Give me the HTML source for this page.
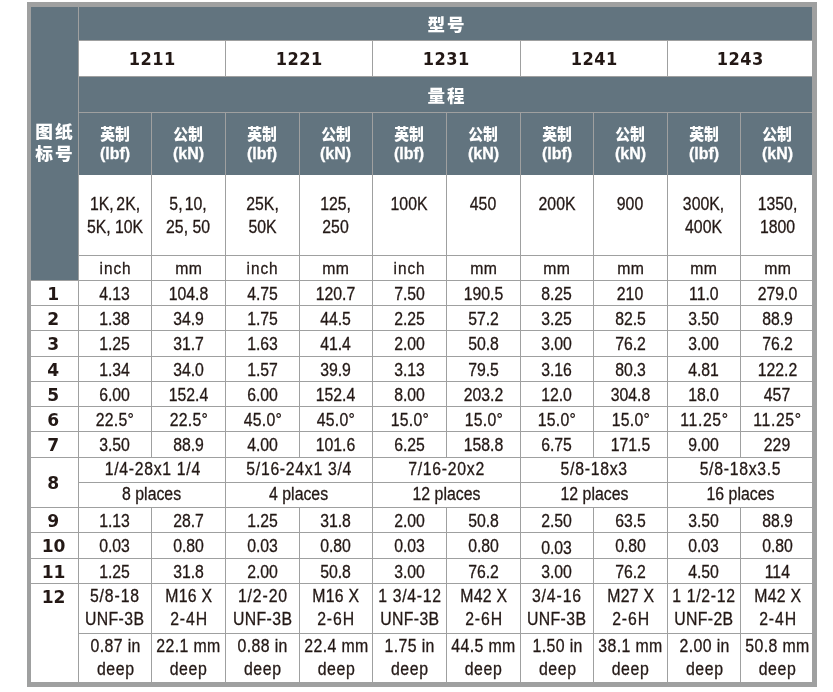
<!DOCTYPE html>
<html lang="zh-CN"><head><meta charset="utf-8"><title>table</title>
<style>
html,body{margin:0;padding:0;background:#fff;}
body{width:833px;height:692px;position:relative;overflow:hidden;font-family:"Liberation Sans","Noto Sans CJK SC",sans-serif;color:#231815;}
#f{position:absolute;left:27px;top:2px;width:790px;height:685px;background:#9fa0a0;}
.c{position:absolute;box-sizing:border-box;display:flex;align-items:center;justify-content:center;text-align:center;font-size:17px;line-height:23px;white-space:nowrap;overflow:visible;}
.w{background:#fff;}
.d{background:#62747f;color:#fff;}
.t{display:inline-block;font-size:18px;transform:scaleX(.878);-webkit-text-stroke:0.3px #231815;}
.b{display:inline-block;font-family:"DejaVu Sans","Liberation Sans",sans-serif;font-weight:bold;transform:scaleX(.9);}
.z{display:inline-block;font-weight:900;}
.zs{display:inline-block;font-weight:900;transform:scaleX(.925);position:relative;top:1px;}
.la{display:inline-block;font-weight:bold;font-size:17px;transform:scaleX(.94);-webkit-text-stroke:0.3px #fff;}
.mod{font-size:18px;letter-spacing:.6px;}
.n,.n12{font-size:18px;padding-right:2px;}
.n .b,.n12 .b{transform:scaleX(.95);}
.n12{align-items:flex-start;padding-top:0;}
.n12 .b{transform:translateY(1.3px) scaleX(.95);}
.h1{font-size:17px;letter-spacing:2px;padding-left:2px;}
.h1 .z{transform:translateY(1.5px) scaleX(1.03);}
.lab{font-size:17px;letter-spacing:2px;line-height:22px;}
.lab .z{transform:scaleX(1.04);}
.sub{font-size:16px;line-height:20px;}
.r .t{transform:translateY(.75px) scaleX(.878);}
.r8 .t{transform:translateY(-1px) scaleX(.878);}
.lc .t{font-size:17.5px;transform:translateY(0px) scaleX(.905);}
.r8.lc .t{transform:translateY(-1px) scaleX(.905);}
.u .t{transform:translateY(-.3px) scaleX(.905);}
.val{align-items:flex-start;padding-top:17px;}
.val .t{transform:translateY(.6px) scaleX(.878);}
.r2{align-items:flex-start;}
.r2 .t{transform:translateY(1px) scaleX(.878);}
.r2.lc .t{transform:translateY(1px) scaleX(.905);}
</style></head>
<body>
<div id="f"></div>
<div class="c d lab" style="left:31px;top:7px;width:47px;height:273px;"><span class="z">图纸<br>标号</span></div>
<div class="c d h1" style="left:79px;top:7px;width:733px;height:33px;"><span class="z">型号</span></div>
<div class="c w mod" style="left:79px;top:41px;width:146px;height:35px;"><span class="b">1211</span></div>
<div class="c w mod" style="left:226px;top:41px;width:146px;height:35px;"><span class="b">1221</span></div>
<div class="c w mod" style="left:373px;top:41px;width:147px;height:35px;"><span class="b">1231</span></div>
<div class="c w mod" style="left:521px;top:41px;width:146px;height:35px;"><span class="b">1241</span></div>
<div class="c w mod" style="left:668px;top:41px;width:144px;height:35px;"><span class="b">1243</span></div>
<div class="c d h1" style="left:79px;top:77px;width:733px;height:35px;"><span class="z">量程</span></div>
<div class="c d sub" style="left:79px;top:113px;width:72px;height:62px;"><div><span class="zs">英制</span><br><span class="la">(lbf)</span></div></div>
<div class="c d sub" style="left:152px;top:113px;width:73px;height:62px;"><div><span class="zs">公制</span><br><span class="la">(kN)</span></div></div>
<div class="c d sub" style="left:226px;top:113px;width:73px;height:62px;"><div><span class="zs">英制</span><br><span class="la">(lbf)</span></div></div>
<div class="c d sub" style="left:300px;top:113px;width:72px;height:62px;"><div><span class="zs">公制</span><br><span class="la">(kN)</span></div></div>
<div class="c d sub" style="left:373px;top:113px;width:73px;height:62px;"><div><span class="zs">英制</span><br><span class="la">(lbf)</span></div></div>
<div class="c d sub" style="left:447px;top:113px;width:73px;height:62px;"><div><span class="zs">公制</span><br><span class="la">(kN)</span></div></div>
<div class="c d sub" style="left:521px;top:113px;width:72px;height:62px;"><div><span class="zs">英制</span><br><span class="la">(lbf)</span></div></div>
<div class="c d sub" style="left:594px;top:113px;width:73px;height:62px;"><div><span class="zs">公制</span><br><span class="la">(kN)</span></div></div>
<div class="c d sub" style="left:668px;top:113px;width:72px;height:62px;"><div><span class="zs">英制</span><br><span class="la">(lbf)</span></div></div>
<div class="c d sub" style="left:741px;top:113px;width:71px;height:62px;padding-left:2px;"><div><span class="zs">公制</span><br><span class="la">(kN)</span></div></div>
<div class="c w val" style="left:79px;top:175px;width:72px;height:80px;"><span class="t"><span style="word-spacing:-2px;">1K, 2K,</span><br>5K, 10K</span></div>
<div class="c w val" style="left:152px;top:175px;width:73px;height:80px;"><span class="t"><span style="word-spacing:-2.5px;">5, 10,</span><br>25, 50</span></div>
<div class="c w val" style="left:226px;top:175px;width:73px;height:80px;"><span class="t">25K,<br>50K</span></div>
<div class="c w val" style="left:300px;top:175px;width:72px;height:80px;"><span class="t">125,<br>250</span></div>
<div class="c w val" style="left:373px;top:175px;width:73px;height:80px;"><span class="t">100K</span></div>
<div class="c w val" style="left:447px;top:175px;width:73px;height:80px;"><span class="t">450</span></div>
<div class="c w val" style="left:521px;top:175px;width:72px;height:80px;"><span class="t">200K</span></div>
<div class="c w val" style="left:594px;top:175px;width:73px;height:80px;"><span class="t">900</span></div>
<div class="c w val" style="left:668px;top:175px;width:72px;height:80px;"><span class="t">300K,<br>400K</span></div>
<div class="c w val" style="left:741px;top:175px;width:71px;height:80px;padding-left:2px;"><span class="t">1350,<br>1800</span></div>
<div class="c w r lc u" style="left:79px;top:256px;width:72px;height:24px;"><span class="t"><span style="font-size:17px;letter-spacing:1px;margin-right:-1px">inch</span></span></div>
<div class="c w r lc u" style="left:152px;top:256px;width:73px;height:24px;"><span class="t"><span style="display:inline-block;font-size:16px;transform:scaleX(1.09);letter-spacing:.5px;margin-right:-.5px">mm</span></span></div>
<div class="c w r lc u" style="left:226px;top:256px;width:73px;height:24px;"><span class="t"><span style="font-size:17px;letter-spacing:1px;margin-right:-1px">inch</span></span></div>
<div class="c w r lc u" style="left:300px;top:256px;width:72px;height:24px;"><span class="t"><span style="display:inline-block;font-size:16px;transform:scaleX(1.09);letter-spacing:.5px;margin-right:-.5px">mm</span></span></div>
<div class="c w r lc u" style="left:373px;top:256px;width:73px;height:24px;"><span class="t"><span style="font-size:17px;letter-spacing:1px;margin-right:-1px">inch</span></span></div>
<div class="c w r lc u" style="left:447px;top:256px;width:73px;height:24px;"><span class="t"><span style="display:inline-block;font-size:16px;transform:scaleX(1.09);letter-spacing:.5px;margin-right:-.5px">mm</span></span></div>
<div class="c w r lc u" style="left:521px;top:256px;width:72px;height:24px;"><span class="t"><span style="display:inline-block;font-size:16px;transform:scaleX(1.09);letter-spacing:.5px;margin-right:-.5px">mm</span></span></div>
<div class="c w r lc u" style="left:594px;top:256px;width:73px;height:24px;"><span class="t"><span style="display:inline-block;font-size:16px;transform:scaleX(1.09);letter-spacing:.5px;margin-right:-.5px">mm</span></span></div>
<div class="c w r lc u" style="left:668px;top:256px;width:72px;height:24px;"><span class="t"><span style="display:inline-block;font-size:16px;transform:scaleX(1.09);letter-spacing:.5px;margin-right:-.5px">mm</span></span></div>
<div class="c w r lc u" style="left:741px;top:256px;width:71px;height:24px;padding-left:2px;"><span class="t"><span style="display:inline-block;font-size:16px;transform:scaleX(1.09);letter-spacing:.5px;margin-right:-.5px">mm</span></span></div>
<div class="c w n" style="left:31px;top:281px;width:47px;height:24px;"><span class="b">1</span></div>
<div class="c w r" style="left:79px;top:281px;width:72px;height:24px;"><span class="t">4.13</span></div>
<div class="c w r" style="left:152px;top:281px;width:73px;height:24px;"><span class="t">104.8</span></div>
<div class="c w r" style="left:226px;top:281px;width:73px;height:24px;"><span class="t">4.75</span></div>
<div class="c w r" style="left:300px;top:281px;width:72px;height:24px;"><span class="t">120.7</span></div>
<div class="c w r" style="left:373px;top:281px;width:73px;height:24px;"><span class="t">7.50</span></div>
<div class="c w r" style="left:447px;top:281px;width:73px;height:24px;"><span class="t">190.5</span></div>
<div class="c w r" style="left:521px;top:281px;width:72px;height:24px;"><span class="t">8.25</span></div>
<div class="c w r" style="left:594px;top:281px;width:73px;height:24px;"><span class="t">210</span></div>
<div class="c w r" style="left:668px;top:281px;width:72px;height:24px;"><span class="t">11.0</span></div>
<div class="c w r" style="left:741px;top:281px;width:71px;height:24px;padding-left:2px;"><span class="t">279.0</span></div>
<div class="c w n" style="left:31px;top:306px;width:47px;height:24px;"><span class="b">2</span></div>
<div class="c w r" style="left:79px;top:306px;width:72px;height:24px;"><span class="t">1.38</span></div>
<div class="c w r" style="left:152px;top:306px;width:73px;height:24px;"><span class="t">34.9</span></div>
<div class="c w r" style="left:226px;top:306px;width:73px;height:24px;"><span class="t">1.75</span></div>
<div class="c w r" style="left:300px;top:306px;width:72px;height:24px;"><span class="t">44.5</span></div>
<div class="c w r" style="left:373px;top:306px;width:73px;height:24px;"><span class="t">2.25</span></div>
<div class="c w r" style="left:447px;top:306px;width:73px;height:24px;"><span class="t">57.2</span></div>
<div class="c w r" style="left:521px;top:306px;width:72px;height:24px;"><span class="t">3.25</span></div>
<div class="c w r" style="left:594px;top:306px;width:73px;height:24px;"><span class="t">82.5</span></div>
<div class="c w r" style="left:668px;top:306px;width:72px;height:24px;"><span class="t">3.50</span></div>
<div class="c w r" style="left:741px;top:306px;width:71px;height:24px;padding-left:2px;"><span class="t">88.9</span></div>
<div class="c w n" style="left:31px;top:331px;width:47px;height:25px;"><span class="b">3</span></div>
<div class="c w r" style="left:79px;top:331px;width:72px;height:25px;"><span class="t">1.25</span></div>
<div class="c w r" style="left:152px;top:331px;width:73px;height:25px;"><span class="t">31.7</span></div>
<div class="c w r" style="left:226px;top:331px;width:73px;height:25px;"><span class="t">1.63</span></div>
<div class="c w r" style="left:300px;top:331px;width:72px;height:25px;"><span class="t">41.4</span></div>
<div class="c w r" style="left:373px;top:331px;width:73px;height:25px;"><span class="t">2.00</span></div>
<div class="c w r" style="left:447px;top:331px;width:73px;height:25px;"><span class="t">50.8</span></div>
<div class="c w r" style="left:521px;top:331px;width:72px;height:25px;"><span class="t">3.00</span></div>
<div class="c w r" style="left:594px;top:331px;width:73px;height:25px;"><span class="t">76.2</span></div>
<div class="c w r" style="left:668px;top:331px;width:72px;height:25px;"><span class="t">3.00</span></div>
<div class="c w r" style="left:741px;top:331px;width:71px;height:25px;padding-left:2px;"><span class="t">76.2</span></div>
<div class="c w n" style="left:31px;top:357px;width:47px;height:24px;"><span class="b">4</span></div>
<div class="c w r" style="left:79px;top:357px;width:72px;height:24px;"><span class="t">1.34</span></div>
<div class="c w r" style="left:152px;top:357px;width:73px;height:24px;"><span class="t">34.0</span></div>
<div class="c w r" style="left:226px;top:357px;width:73px;height:24px;"><span class="t">1.57</span></div>
<div class="c w r" style="left:300px;top:357px;width:72px;height:24px;"><span class="t">39.9</span></div>
<div class="c w r" style="left:373px;top:357px;width:73px;height:24px;"><span class="t">3.13</span></div>
<div class="c w r" style="left:447px;top:357px;width:73px;height:24px;"><span class="t">79.5</span></div>
<div class="c w r" style="left:521px;top:357px;width:72px;height:24px;"><span class="t">3.16</span></div>
<div class="c w r" style="left:594px;top:357px;width:73px;height:24px;"><span class="t">80.3</span></div>
<div class="c w r" style="left:668px;top:357px;width:72px;height:24px;"><span class="t">4.81</span></div>
<div class="c w r" style="left:741px;top:357px;width:71px;height:24px;padding-left:2px;"><span class="t">122.2</span></div>
<div class="c w n" style="left:31px;top:382px;width:47px;height:24px;"><span class="b">5</span></div>
<div class="c w r" style="left:79px;top:382px;width:72px;height:24px;"><span class="t">6.00</span></div>
<div class="c w r" style="left:152px;top:382px;width:73px;height:24px;"><span class="t">152.4</span></div>
<div class="c w r" style="left:226px;top:382px;width:73px;height:24px;"><span class="t">6.00</span></div>
<div class="c w r" style="left:300px;top:382px;width:72px;height:24px;"><span class="t">152.4</span></div>
<div class="c w r" style="left:373px;top:382px;width:73px;height:24px;"><span class="t">8.00</span></div>
<div class="c w r" style="left:447px;top:382px;width:73px;height:24px;"><span class="t">203.2</span></div>
<div class="c w r" style="left:521px;top:382px;width:72px;height:24px;"><span class="t">12.0</span></div>
<div class="c w r" style="left:594px;top:382px;width:73px;height:24px;"><span class="t">304.8</span></div>
<div class="c w r" style="left:668px;top:382px;width:72px;height:24px;"><span class="t">18.0</span></div>
<div class="c w r" style="left:741px;top:382px;width:71px;height:24px;padding-left:2px;"><span class="t">457</span></div>
<div class="c w n" style="left:31px;top:407px;width:47px;height:24px;"><span class="b">6</span></div>
<div class="c w r" style="left:79px;top:407px;width:72px;height:24px;"><span class="t"><span style="letter-spacing:0.3px;margin-right:-0.3px;">22.5°</span></span></div>
<div class="c w r" style="left:152px;top:407px;width:73px;height:24px;"><span class="t"><span style="letter-spacing:0.3px;margin-right:-0.3px;">22.5°</span></span></div>
<div class="c w r" style="left:226px;top:407px;width:73px;height:24px;"><span class="t"><span style="letter-spacing:0.3px;margin-right:-0.3px;">45.0°</span></span></div>
<div class="c w r" style="left:300px;top:407px;width:72px;height:24px;"><span class="t"><span style="letter-spacing:0.3px;margin-right:-0.3px;">45.0°</span></span></div>
<div class="c w r" style="left:373px;top:407px;width:73px;height:24px;"><span class="t"><span style="letter-spacing:0.3px;margin-right:-0.3px;">15.0°</span></span></div>
<div class="c w r" style="left:447px;top:407px;width:73px;height:24px;"><span class="t"><span style="letter-spacing:0.3px;margin-right:-0.3px;">15.0°</span></span></div>
<div class="c w r" style="left:521px;top:407px;width:72px;height:24px;"><span class="t"><span style="letter-spacing:0.3px;margin-right:-0.3px;">15.0°</span></span></div>
<div class="c w r" style="left:594px;top:407px;width:73px;height:24px;"><span class="t"><span style="letter-spacing:0.3px;margin-right:-0.3px;">15.0°</span></span></div>
<div class="c w r" style="left:668px;top:407px;width:72px;height:24px;"><span class="t"><span style="letter-spacing:0.7px;margin-right:-0.7px;">11.25°</span></span></div>
<div class="c w r" style="left:741px;top:407px;width:71px;height:24px;padding-left:2px;"><span class="t"><span style="letter-spacing:0.7px;margin-right:-0.7px;">11.25°</span></span></div>
<div class="c w n" style="left:31px;top:432px;width:47px;height:25px;"><span class="b">7</span></div>
<div class="c w r" style="left:79px;top:432px;width:72px;height:25px;"><span class="t">3.50</span></div>
<div class="c w r" style="left:152px;top:432px;width:73px;height:25px;"><span class="t">88.9</span></div>
<div class="c w r" style="left:226px;top:432px;width:73px;height:25px;"><span class="t">4.00</span></div>
<div class="c w r" style="left:300px;top:432px;width:72px;height:25px;"><span class="t">101.6</span></div>
<div class="c w r" style="left:373px;top:432px;width:73px;height:25px;"><span class="t">6.25</span></div>
<div class="c w r" style="left:447px;top:432px;width:73px;height:25px;"><span class="t">158.8</span></div>
<div class="c w r" style="left:521px;top:432px;width:72px;height:25px;"><span class="t">6.75</span></div>
<div class="c w r" style="left:594px;top:432px;width:73px;height:25px;"><span class="t">171.5</span></div>
<div class="c w r" style="left:668px;top:432px;width:72px;height:25px;"><span class="t">9.00</span></div>
<div class="c w r" style="left:741px;top:432px;width:71px;height:25px;padding-left:2px;"><span class="t">229</span></div>
<div class="c w n" style="left:31px;top:458px;width:47px;height:49px;"><span class="b">8</span></div>
<div class="c w r r8" style="left:79px;top:458px;width:146px;height:24px;"><span class="t"><span style="letter-spacing:0.8px;margin-right:-0.8px;">1/4-28x1 1/4</span></span></div>
<div class="c w r r8 lc" style="left:79px;top:483px;width:146px;height:24px;"><span class="t">8 places</span></div>
<div class="c w r r8" style="left:226px;top:458px;width:146px;height:24px;"><span class="t"><span style="letter-spacing:0.8px;margin-right:-0.8px;">5/16-24x1 3/4</span></span></div>
<div class="c w r r8 lc" style="left:226px;top:483px;width:146px;height:24px;"><span class="t">4 places</span></div>
<div class="c w r r8" style="left:373px;top:458px;width:147px;height:24px;"><span class="t"><span style="letter-spacing:0.8px;margin-right:-0.8px;">7/16-20x2</span></span></div>
<div class="c w r r8 lc" style="left:373px;top:483px;width:147px;height:24px;"><span class="t">12 places</span></div>
<div class="c w r r8" style="left:521px;top:458px;width:146px;height:24px;"><span class="t"><span style="letter-spacing:0.8px;margin-right:-0.8px;">5/8-18x3</span></span></div>
<div class="c w r r8 lc" style="left:521px;top:483px;width:146px;height:24px;"><span class="t">12 places</span></div>
<div class="c w r r8" style="left:668px;top:458px;width:144px;height:24px;"><span class="t"><span style="letter-spacing:0.8px;margin-right:-0.8px;">5/8-18x3.5</span></span></div>
<div class="c w r r8 lc" style="left:668px;top:483px;width:144px;height:24px;"><span class="t">16 places</span></div>
<div class="c w n" style="left:31px;top:508px;width:47px;height:24px;"><span class="b">9</span></div>
<div class="c w r" style="left:79px;top:508px;width:72px;height:24px;"><span class="t">1.13</span></div>
<div class="c w r" style="left:152px;top:508px;width:73px;height:24px;"><span class="t">28.7</span></div>
<div class="c w r" style="left:226px;top:508px;width:73px;height:24px;"><span class="t">1.25</span></div>
<div class="c w r" style="left:300px;top:508px;width:72px;height:24px;"><span class="t">31.8</span></div>
<div class="c w r" style="left:373px;top:508px;width:73px;height:24px;"><span class="t">2.00</span></div>
<div class="c w r" style="left:447px;top:508px;width:73px;height:24px;"><span class="t">50.8</span></div>
<div class="c w r" style="left:521px;top:508px;width:72px;height:24px;"><span class="t">2.50</span></div>
<div class="c w r" style="left:594px;top:508px;width:73px;height:24px;"><span class="t">63.5</span></div>
<div class="c w r" style="left:668px;top:508px;width:72px;height:24px;"><span class="t">3.50</span></div>
<div class="c w r" style="left:741px;top:508px;width:71px;height:24px;padding-left:2px;"><span class="t">88.9</span></div>
<div class="c w n" style="left:31px;top:533px;width:47px;height:25px;"><span class="b">10</span></div>
<div class="c w r" style="left:79px;top:533px;width:72px;height:25px;"><span class="t">0.03</span></div>
<div class="c w r" style="left:152px;top:533px;width:73px;height:25px;"><span class="t">0.80</span></div>
<div class="c w r" style="left:226px;top:533px;width:73px;height:25px;"><span class="t">0.03</span></div>
<div class="c w r" style="left:300px;top:533px;width:72px;height:25px;"><span class="t">0.80</span></div>
<div class="c w r" style="left:373px;top:533px;width:73px;height:25px;"><span class="t">0.03</span></div>
<div class="c w r" style="left:447px;top:533px;width:73px;height:25px;"><span class="t">0.80</span></div>
<div class="c w r" style="left:521px;top:533px;width:72px;height:25px;padding-top:3px;"><span class="t">0.03</span></div>
<div class="c w r" style="left:594px;top:533px;width:73px;height:25px;"><span class="t">0.80</span></div>
<div class="c w r" style="left:668px;top:533px;width:72px;height:25px;"><span class="t">0.03</span></div>
<div class="c w r" style="left:741px;top:533px;width:71px;height:25px;padding-left:2px;"><span class="t">0.80</span></div>
<div class="c w n" style="left:31px;top:559px;width:47px;height:24px;"><span class="b">11</span></div>
<div class="c w r" style="left:79px;top:559px;width:72px;height:24px;"><span class="t">1.25</span></div>
<div class="c w r" style="left:152px;top:559px;width:73px;height:24px;"><span class="t">31.8</span></div>
<div class="c w r" style="left:226px;top:559px;width:73px;height:24px;"><span class="t">2.00</span></div>
<div class="c w r" style="left:300px;top:559px;width:72px;height:24px;"><span class="t">50.8</span></div>
<div class="c w r" style="left:373px;top:559px;width:73px;height:24px;"><span class="t">3.00</span></div>
<div class="c w r" style="left:447px;top:559px;width:73px;height:24px;"><span class="t">76.2</span></div>
<div class="c w r" style="left:521px;top:559px;width:72px;height:24px;"><span class="t">3.00</span></div>
<div class="c w r" style="left:594px;top:559px;width:73px;height:24px;"><span class="t">76.2</span></div>
<div class="c w r" style="left:668px;top:559px;width:72px;height:24px;"><span class="t">4.50</span></div>
<div class="c w r" style="left:741px;top:559px;width:71px;height:24px;padding-left:2px;"><span class="t">114</span></div>
<div class="c w n12" style="left:31px;top:584px;width:47px;height:98px;"><span class="b">12</span></div>
<div class="c w r2" style="left:79px;top:584px;width:72px;height:49px;"><span class="t"><span style="letter-spacing:1px;margin-right:-1px;">5/8-18</span><br><span style="letter-spacing:0.4px;margin-right:-0.4px;">UNF-3B</span></span></div>
<div class="c w r2 lc" style="left:79px;top:634px;width:72px;height:48px;"><span class="t"><span style="letter-spacing:0.4px;margin-right:-0.4px;">0.87 in</span><br><span style="letter-spacing:0.7px;margin-right:-0.7px;">deep</span></span></div>
<div class="c w r2" style="left:152px;top:584px;width:73px;height:49px;"><span class="t"><span style="letter-spacing:0.3px;margin-right:-0.3px;">M16 X</span><br><span style="letter-spacing:1.0px;margin-right:-1.0px;">2-4H</span></span></div>
<div class="c w r2 lc" style="left:152px;top:634px;width:73px;height:48px;"><span class="t"><span style="letter-spacing:0.4px;margin-right:-0.4px;">22.1 mm</span><br><span style="letter-spacing:0.7px;margin-right:-0.7px;">deep</span></span></div>
<div class="c w r2" style="left:226px;top:584px;width:73px;height:49px;"><span class="t"><span style="letter-spacing:1px;margin-right:-1px;">1/2-20</span><br><span style="letter-spacing:0.4px;margin-right:-0.4px;">UNF-3B</span></span></div>
<div class="c w r2 lc" style="left:226px;top:634px;width:73px;height:48px;"><span class="t"><span style="letter-spacing:0.4px;margin-right:-0.4px;">0.88 in</span><br><span style="letter-spacing:0.7px;margin-right:-0.7px;">deep</span></span></div>
<div class="c w r2" style="left:300px;top:584px;width:72px;height:49px;"><span class="t"><span style="letter-spacing:0.3px;margin-right:-0.3px;">M16 X</span><br><span style="letter-spacing:1.0px;margin-right:-1.0px;">2-6H</span></span></div>
<div class="c w r2 lc" style="left:300px;top:634px;width:72px;height:48px;"><span class="t"><span style="letter-spacing:0.4px;margin-right:-0.4px;">22.4 mm</span><br><span style="letter-spacing:0.7px;margin-right:-0.7px;">deep</span></span></div>
<div class="c w r2" style="left:373px;top:584px;width:73px;height:49px;"><span class="t"><span style="letter-spacing:0.75px;margin-right:-0.75px;">1 3/4-12</span><br><span style="letter-spacing:0.4px;margin-right:-0.4px;">UNF-3B</span></span></div>
<div class="c w r2 lc" style="left:373px;top:634px;width:73px;height:48px;"><span class="t"><span style="letter-spacing:0.4px;margin-right:-0.4px;">1.75 in</span><br><span style="letter-spacing:0.7px;margin-right:-0.7px;">deep</span></span></div>
<div class="c w r2" style="left:447px;top:584px;width:73px;height:49px;"><span class="t"><span style="letter-spacing:0.3px;margin-right:-0.3px;">M42 X</span><br><span style="letter-spacing:1.0px;margin-right:-1.0px;">2-6H</span></span></div>
<div class="c w r2 lc" style="left:447px;top:634px;width:73px;height:48px;"><span class="t"><span style="letter-spacing:0.4px;margin-right:-0.4px;">44.5 mm</span><br><span style="letter-spacing:0.7px;margin-right:-0.7px;">deep</span></span></div>
<div class="c w r2" style="left:521px;top:584px;width:72px;height:49px;"><span class="t"><span style="letter-spacing:1px;margin-right:-1px;">3/4-16</span><br><span style="letter-spacing:0.4px;margin-right:-0.4px;">UNF-3B</span></span></div>
<div class="c w r2 lc" style="left:521px;top:634px;width:72px;height:48px;"><span class="t"><span style="letter-spacing:0.4px;margin-right:-0.4px;">1.50 in</span><br><span style="letter-spacing:0.7px;margin-right:-0.7px;">deep</span></span></div>
<div class="c w r2" style="left:594px;top:584px;width:73px;height:49px;"><span class="t"><span style="letter-spacing:0.3px;margin-right:-0.3px;">M27 X</span><br><span style="letter-spacing:1.0px;margin-right:-1.0px;">2-6H</span></span></div>
<div class="c w r2 lc" style="left:594px;top:634px;width:73px;height:48px;"><span class="t"><span style="letter-spacing:0.4px;margin-right:-0.4px;">38.1 mm</span><br><span style="letter-spacing:0.7px;margin-right:-0.7px;">deep</span></span></div>
<div class="c w r2" style="left:668px;top:584px;width:72px;height:49px;"><span class="t"><span style="letter-spacing:0.75px;margin-right:-0.75px;">1 1/2-12</span><br><span style="letter-spacing:0.4px;margin-right:-0.4px;">UNF-2B</span></span></div>
<div class="c w r2 lc" style="left:668px;top:634px;width:72px;height:48px;"><span class="t"><span style="letter-spacing:0.4px;margin-right:-0.4px;">2.00 in</span><br><span style="letter-spacing:0.7px;margin-right:-0.7px;">deep</span></span></div>
<div class="c w r2" style="left:741px;top:584px;width:71px;height:49px;padding-left:2px;"><span class="t"><span style="letter-spacing:0.3px;margin-right:-0.3px;">M42 X</span><br><span style="letter-spacing:1.0px;margin-right:-1.0px;">2-4H</span></span></div>
<div class="c w r2 lc" style="left:741px;top:634px;width:71px;height:48px;padding-left:2px;"><span class="t"><span style="letter-spacing:0.4px;margin-right:-0.4px;">50.8 mm</span><br><span style="letter-spacing:0.7px;margin-right:-0.7px;">deep</span></span></div>
</body></html>
